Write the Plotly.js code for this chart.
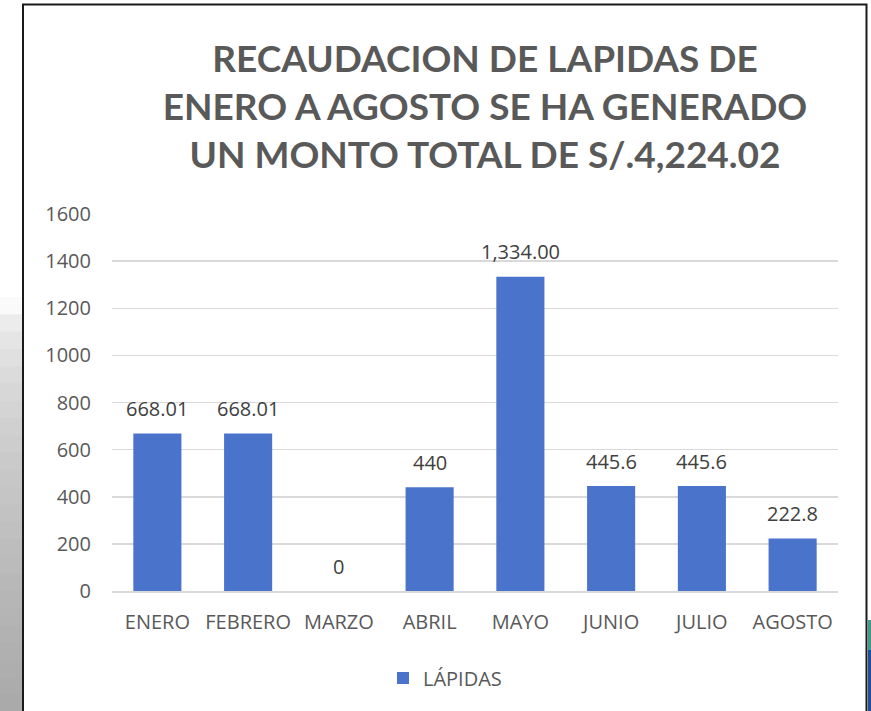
<!DOCTYPE html>
<html>
<head>
<meta charset="utf-8">
<script src="https://cdn.plot.ly/plotly-3.0.1.min.js"></script>
<style>html,body{margin:0;padding:0;background:#fff;}#chart{width:871px;height:711px;}</style>
</head>
<body>
<div id="chart"></div>
<script>
const categories = ["ENERO", "FEBRERO", "MARZO", "ABRIL", "MAYO", "JUNIO", "JULIO", "AGOSTO"];
const values = [668.01, 668.01, 0, 440, 1334.00, 445.6, 445.6, 222.8];
const valueLabels = ["668.01", "668.01", "0", "440", "1,334.00", "445.6", "445.6", "222.8"];
const seriesName = "LÁPIDAS";
const yTicks = [0, 200, 400, 600, 800, 1000, 1200, 1400, 1600];
const titleLines = ["RECAUDACION DE LAPIDAS DE", "ENERO A AGOSTO SE HA GENERADO", "UN MONTO TOTAL DE S/.4,224.02"];

const W = 871, H = 711;
const L = 112, R = 838, T = 214, B = 591;
const px2x = p => (p - L) / (R - L);
const px2y = p => (B - p) / (B - T);

const shapes = [];
// left grey gradient strip (slide background)
const bandTop = 297, bandBottom = 712, nb = 24;
for (let i = 0; i < nb; i++) {
  const y0 = bandTop + (bandBottom - bandTop) * i / nb;
  const y1 = bandTop + (bandBottom - bandTop) * (i + 1) / nb + 1;
  const t = Math.min(1, Math.pow(i / (nb - 1), 0.55));
  const g = Math.round(250 - t * 80);
  shapes.push({type: 'rect', xref: 'paper', yref: 'paper', layer: 'below',
    x0: px2x(0), x1: px2x(22.5), y0: px2y(y0), y1: px2y(y1),
    fillcolor: `rgb(${g},${g},${g})`, line: {width: 0}});
}
// right edge colour strip
shapes.push({type: 'rect', xref: 'paper', yref: 'paper', layer: 'below',
  x0: px2x(868), x1: px2x(872), y0: px2y(620), y1: px2y(650),
  fillcolor: '#3f9a8a', line: {width: 0}});
shapes.push({type: 'rect', xref: 'paper', yref: 'paper', layer: 'below',
  x0: px2x(868), x1: px2x(872), y0: px2y(650), y1: px2y(712),
  fillcolor: '#1f4f9a', line: {width: 0}});
// chart frame
shapes.push({type: 'rect', xref: 'paper', yref: 'paper', layer: 'below',
  x0: px2x(23), x1: px2x(866.5), y0: px2y(4.5), y1: px2y(714),
  fillcolor: 'rgba(0,0,0,0)', line: {color: '#1a1a1a', width: 2}});

const annotations = categories.map((c, i) => ({
  x: c, y: values[i], xref: 'x', yref: 'y', text: valueLabels[i],
  showarrow: false, yanchor: 'middle', xanchor: 'center', yshift: 25,
  font: {family: 'Open Sans, sans-serif', size: 20, color: '#404040'}
}));

const trace = {
  type: 'bar', x: categories, y: values, name: seriesName,
  marker: {color: '#4a73cb', line: {width: 0}},
  showlegend: true, hoverinfo: 'x+y'
};

const layout = {
  width: W, height: H,
  margin: {l: L, r: W - R, t: T, b: H - B, pad: 0},
  paper_bgcolor: '#ffffff', plot_bgcolor: '#ffffff',
  title: {
    text: '<b>' + titleLines.join('<br>') + '</b>',
    font: {family: 'Lato, sans-serif', size: 37, color: '#595959'},
    x: 485 / W, xanchor: 'center', xref: 'container',
    y: 1 - 72 / H, yanchor: 'top', yref: 'container'
  },
  xaxis: {
    type: 'category', showgrid: false, zeroline: false,
    showline: true, linecolor: '#d9d9d9', linewidth: 1.5,
    ticks: '', ticklabelstandoff: 12,
    tickfont: {family: 'Open Sans, sans-serif', size: 20, color: '#595959'}
  },
  yaxis: {
    range: [0, 1600], tickvals: yTicks, ticktext: yTicks.map(String),
    showgrid: true, gridcolor: '#d9d9d9', gridwidth: 1.5,
    zeroline: false, showline: false, ticks: '', ticklabelstandoff: 20,
    tickfont: {family: 'Open Sans, sans-serif', size: 20, color: '#595959'}
  },
  bargap: 0.47,
  showlegend: true,
  legend: {
    orientation: 'h', x: px2x(383), xanchor: 'left', y: px2y(678), yanchor: 'middle',
    font: {family: 'Open Sans, sans-serif', size: 20, color: '#595959'},
    bgcolor: 'rgba(0,0,0,0)'
  },
  shapes: shapes,
  annotations: annotations
};

Plotly.newPlot('chart', [trace], layout, {displayModeBar: false, staticPlot: true});
</script>
</body>
</html>
